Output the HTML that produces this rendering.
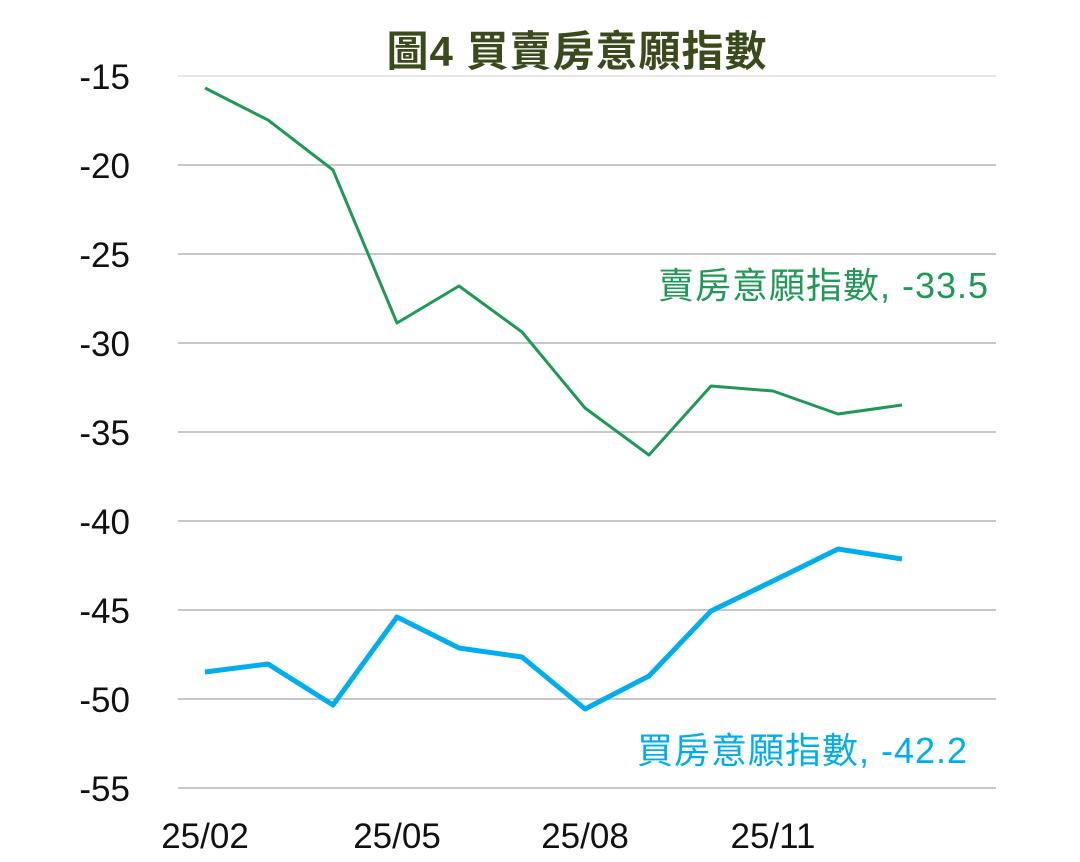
<!DOCTYPE html>
<html><head><meta charset="utf-8"><style>
body{margin:0;background:#fff;}
svg text{font-family:"Liberation Sans","Noto Sans CJK TC",sans-serif;}
</style></head><body>
<svg width="1080" height="857" viewBox="0 0 1080 857" xmlns="http://www.w3.org/2000/svg">
<rect width="1080" height="857" fill="#fff"/>
<g stroke="#c8c8c8" stroke-width="2">
<line x1="178" y1="76" x2="996" y2="76" stroke="#e6e6e6"/>
<line x1="178" y1="165" x2="996" y2="165"/>
<line x1="178" y1="254" x2="996" y2="254"/>
<line x1="178" y1="343" x2="996" y2="343"/>
<line x1="178" y1="432" x2="996" y2="432"/>
<line x1="178" y1="521" x2="996" y2="521"/>
<line x1="178" y1="610" x2="996" y2="610"/>
<line x1="178" y1="699" x2="996" y2="699"/>
<line x1="178" y1="788" x2="996" y2="788"/>
</g>
<g font-size="35" fill="#111" text-anchor="end">
<text x="130" y="89">-15</text><text x="130" y="178">-20</text><text x="130" y="267">-25</text>
<text x="130" y="356">-30</text><text x="130" y="445">-35</text><text x="130" y="534">-40</text>
<text x="130" y="623">-45</text><text x="130" y="712">-50</text><text x="130" y="801">-55</text>
</g>
<g font-size="35" fill="#111" text-anchor="middle">
<text x="205" y="848">25/02</text><text x="397" y="848">25/05</text>
<text x="585" y="848">25/08</text><text x="773" y="848">25/11</text>
</g>
<text x="577" y="66" font-size="42" font-weight="bold" fill="#3b4a1c" text-anchor="middle" letter-spacing="1">圖4  買賣房意願指數</text>
<polyline fill="none" stroke="#1e9a55" stroke-width="3" stroke-linejoin="round"
points="205,88 268,120 333,170 397,323 459,286 522,332 585,408 649,455 711,386 773,391 838,414 902,405"/>
<polyline fill="none" stroke="#00aeef" stroke-width="5" stroke-linejoin="round"
points="205,672 268,664 333,705 397,617 459,648 522,657 585,709 649,676 711,611 773,581 838,549 902,559"/>
<text x="988" y="298" font-size="36" fill="#1e9a55" text-anchor="end" textLength="330">賣房意願指數, -33.5</text>
<text x="967" y="763" font-size="36" fill="#00aeef" text-anchor="end" textLength="330">買房意願指數, -42.2</text>
</svg>
</body></html>
